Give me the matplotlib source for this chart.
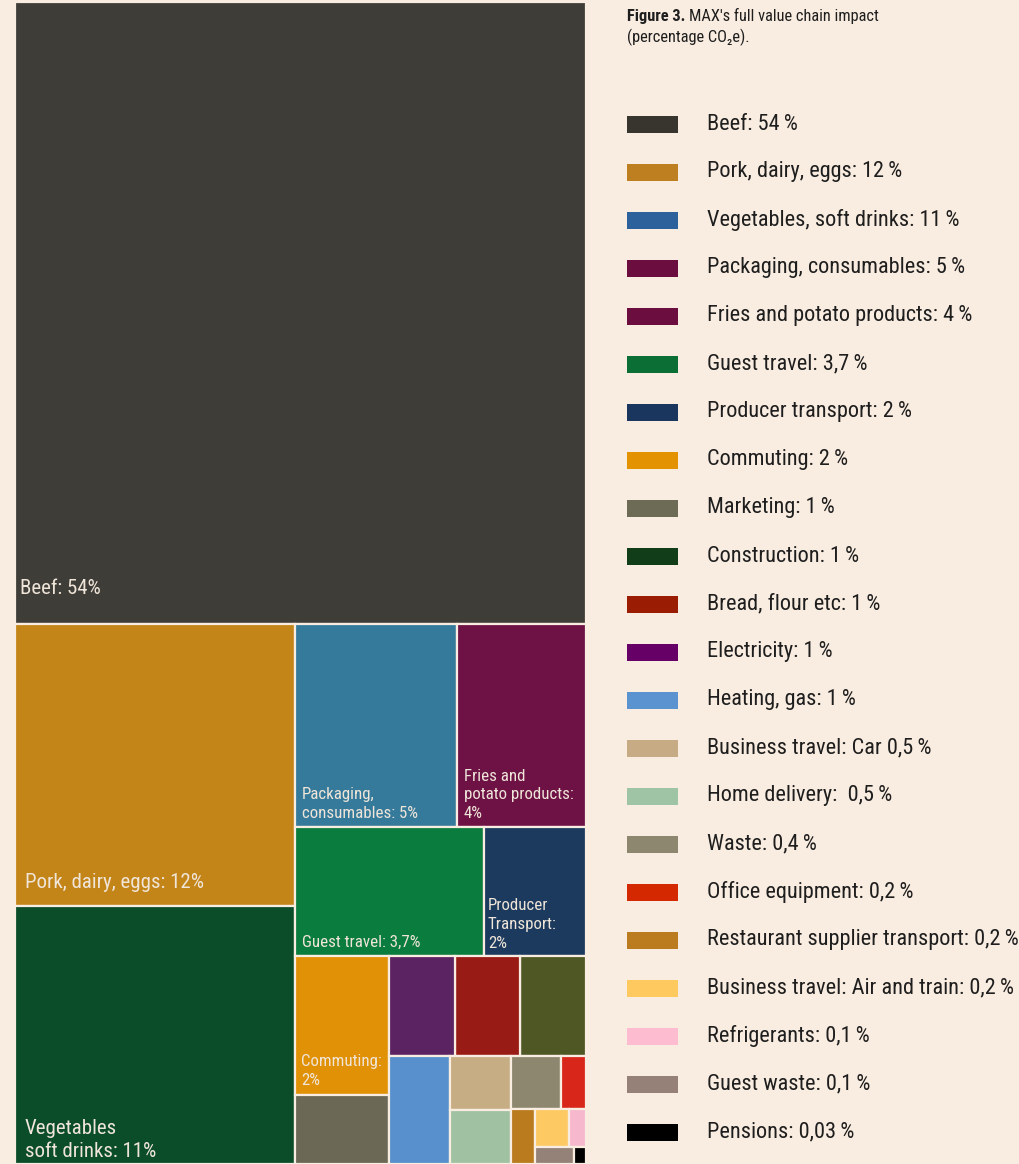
import matplotlib
matplotlib.use("Agg")
import matplotlib.pyplot as plt
from matplotlib.patches import Rectangle
from matplotlib import font_manager

# ---------------- data ----------------
names = ["Beef", "Pork", "Veg", "Packaging", "Fries", "Guest", "Producer",
         "Commuting", "Marketing", "Construction", "Bread", "Electricity",
         "Heating", "Car", "Home", "Waste", "Office", "Restaurant", "Air",
         "Refrig", "GuestWaste", "Pensions"]
values = [54, 12, 11, 5, 4, 3.7, 2, 2, 1, 1, 1, 1, 1, 0.5, 0.5, 0.4, 0.2,
          0.2, 0.2, 0.1, 0.1, 0.03]
TS = "\u2009"
legend_labels = ["Beef: 54" + TS + "%", "Pork, dairy, eggs: 12" + TS + "%",
                 "Vegetables, soft drinks: 11" + TS + "%",
                 "Packaging, consumables: 5" + TS + "%", "Fries and potato products: 4" + TS + "%",
                 "Guest travel: 3,7" + TS + "%", "Producer transport: 2" + TS + "%",
                 "Commuting: 2" + TS + "%",
                 "Marketing: 1" + TS + "%", "Construction: 1" + TS + "%", "Bread, flour etc: 1" + TS + "%",
                 "Electricity: 1" + TS + "%", "Heating, gas: 1" + TS + "%",
                 "Business travel: Car 0,5" + TS + "%",
                 "Home delivery:  0,5" + TS + "%", "Waste: 0,4" + TS + "%",
                 "Office equipment: 0,2" + TS + "%",
                 "Restaurant supplier transport: 0,2" + TS + "%",
                 "Business travel: Air and train: 0,2" + TS + "%",
                 "Refrigerants: 0,1" + TS + "%", "Guest waste: 0,1" + TS + "%",
                 "Pensions: 0,03" + TS + "%"]
legend_colors = ["#38352e", "#bd7f1f", "#2c619b", "#6b0d3e", "#6c0d40", "#0a6e35",
                 "#1a365e", "#e39302", "#6d6a55", "#113d18", "#9a1c02", "#660066",
                 "#5b92d0", "#c6ab84", "#9ec3a5", "#8c876e", "#d42800", "#bb7c20",
                 "#fec95f", "#fdbcd0", "#958178", "#000000"]
tile_colors = ["#3f3d38", "#c38418", "#0b4d28", "#367a9b", "#6e1245", "#0a7c3e",
               "#1b3a5e", "#e19106", "#6b6855", "#4f5725", "#981b15", "#5c2363",
               "#5790cc", "#c7ad84", "#a0c2a3", "#8d8770", "#d9261a", "#b97b1e",
               "#fdc962", "#f5b8cd", "#948177", "#000000"]
tile_labels = {"Beef": "Beef: 54%", "Pork": "Pork, dairy, eggs: 12%",
               "Veg": "Vegetables\nsoft drinks: 11%",
               "Packaging": "Packaging,\nconsumables: 5%",
               "Fries": "Fries and\npotato products:\n4%",
               "Guest": "Guest travel: 3,7%",
               "Producer": "Producer\nTransport:\n2%",
               "Commuting": "Commuting:\n2%"}

# split structure of the treemap ('v' = stacked, 'h' = side by side)
tree = ('v', ['Beef',
              ('h', [('v', ['Pork', 'Veg']),
                     ('v', [('h', ['Packaging', 'Fries']),
                            ('h', ['Guest', 'Producer']),
                            ('h', [('v', ['Commuting', 'Marketing']),
                                   ('v', [('h', ['Electricity', 'Bread', 'Construction']),
                                          ('h', ['Heating',
                                                 ('v', ['Car', 'Home']),
                                                 ('v', [('h', ['Waste', 'Office']),
                                                        ('h', ['Restaurant',
                                                               ('v', [('h', ['Air', 'Refrig']),
                                                                      ('h', ['GuestWaste', 'Pensions'])])])])])])])])])])

val = dict(zip(names, values))
tcol = dict(zip(names, tile_colors))

BG = "#f9ece0"
TXT = "#efe5d9"

def total(node):
    if isinstance(node, str):
        return val[node]
    return sum(total(c) for c in node[1])

rects = {}
def layout(node, x, y, w, h):
    if isinstance(node, str):
        rects[node] = (x, y, w, h)
        return
    kind, kids = node
    tot = total(node)
    pos = 0.0
    for k in kids:
        f = total(k) / tot
        if kind == 'v':
            layout(k, x, y + pos * h, w, f * h)
        else:
            layout(k, x + pos * w, y, f * w, h)
        pos += f

# ---------------- fonts ----------------
avail = {f.name for f in font_manager.fontManager.ttflist}
cands = [f for f in ["Roboto Condensed", "Liberation Sans Narrow", "Open Sans Condensed"] if f in avail]
FAM = cands + ["Roboto", "DejaVu Sans"]
plt.rcParams['font.family'] = FAM

W, H = 1020, 1164
fig = plt.figure(figsize=(W / 100, H / 100), dpi=100)
fig.patch.set_facecolor(BG)

# treemap axes (pixel-sized units so area is proportional)
x0, y0, tw, th = 15, 2, 571, 1162
ax = fig.add_axes([x0 / W, 1 - (y0 + th) / H, tw / W, th / H])
ax.set_xlim(0, tw)
ax.set_ylim(th, 0)
ax.axis('off')
layout(tree, 0, 0, tw, th)

for n in names:
    x, y, w, h = rects[n]
    ax.add_patch(Rectangle((x, y), w, h, facecolor=tcol[n], edgecolor=BG, linewidth=1.6))

label_style = {"Beef": (5, 26, 15), "Pork": (10, 14, 15), "Veg": (10, 3, 15),
               "Packaging": (7, 6, 12.2), "Fries": (7, 6, 12.2), "Guest": (7, 6, 12.2),
               "Producer": (4, 5, 12.2), "Commuting": (6, 7, 12.2)}
for n, txt in tile_labels.items():
    x, y, w, h = rects[n]
    dx, dy, fs = label_style[n]
    ax.text(x + dx, y + h - dy, txt, color=TXT, fontsize=fs, ha='left', va='bottom',
            linespacing=1.3)

# title
fig.canvas.draw()
r = fig.canvas.get_renderer()
t1 = fig.text(627 / W, 1 - 16 / H, "Figure 3.", fontsize=11.8, fontweight='bold',
              color="#1e1e1e", va='center', ha='left')
bb = t1.get_window_extent(renderer=r)
fig.text((bb.x1 + 4) / W, 1 - 16 / H, "MAX's full value chain impact", fontsize=11.8,
         color="#1e1e1e", va='center', ha='left')
fig.text(627 / W, 1 - 37 / H, "(percentage CO\u2082e).", fontsize=11.8,
         color="#1e1e1e", va='center', ha='left', family=FAM)

# legend
lax = fig.add_axes([0, 0, 1, 1], facecolor='none')
lax.set_xlim(0, W)
lax.set_ylim(H, 0)
lax.axis('off')
for i, (lab, c) in enumerate(zip(legend_labels, legend_colors)):
    yc = 124 + i * 48
    lax.add_patch(Rectangle((627, yc - 8.5), 51, 17, facecolor=c, edgecolor='none'))
    lax.text(707, yc, lab, fontsize=16, color="#1e1e1e", va='center', ha='left')

fig.savefig("out.png", dpi=100, facecolor=BG)
